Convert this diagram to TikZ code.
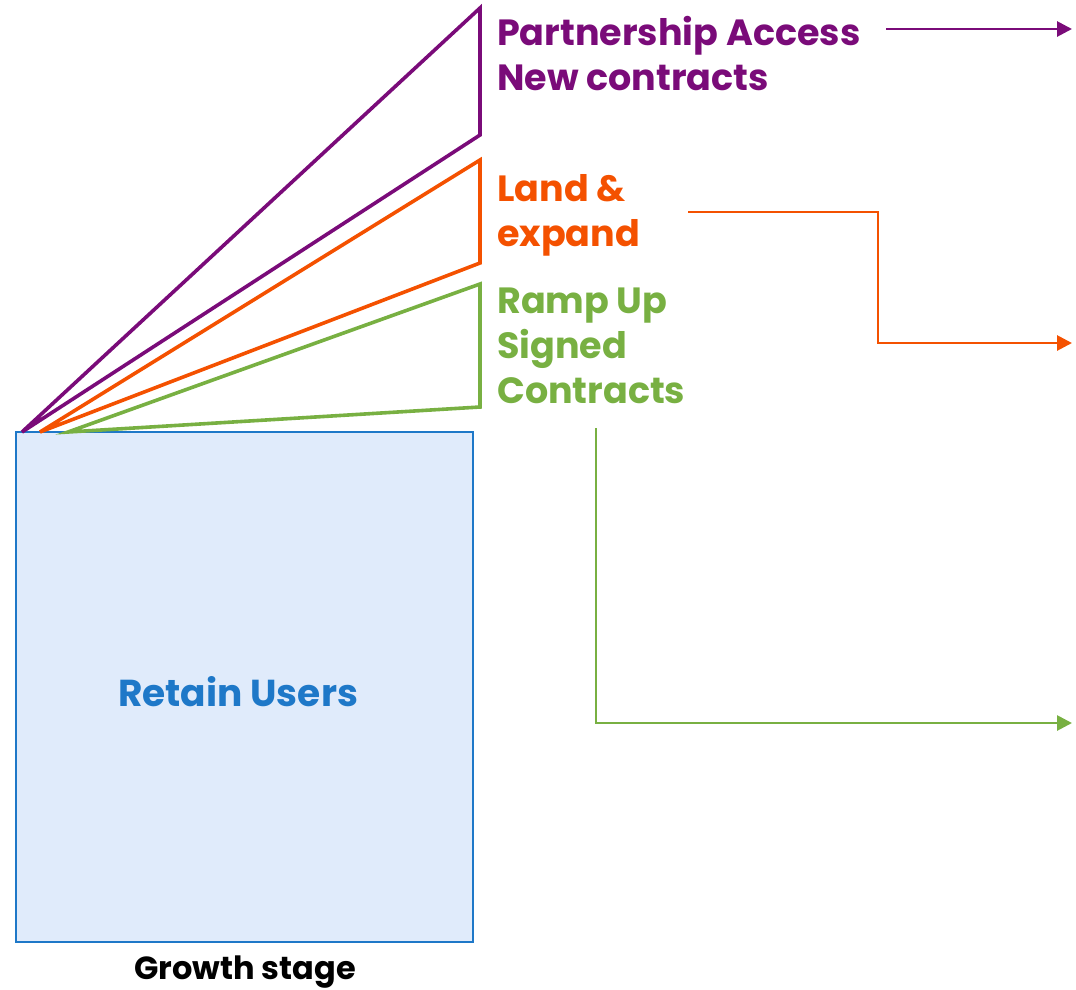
\documentclass[tikz,border=0pt]{standalone}
\usepackage{fontspec}
\setmainfont{Poppins}
\usetikzlibrary{arrows.meta}
\usetikzlibrary{positioning}
\definecolor{fanpurple}{HTML}{7A0B79}
\definecolor{fanorange}{HTML}{F45100}
\definecolor{fangreen}{HTML}{78B042}
\definecolor{boxblue}{HTML}{1E78C8}
\definecolor{boxfill}{HTML}{E0EBFB}
\tikzset{fan/.style={line width=3.6pt, line join=miter},
  lbl/.style={anchor=north west, inner sep=0pt, align=left, font=\fontsize{36.5}{45}\selectfont\bfseries},
  flow/.style={line width=2.8pt, -{Triangle[length=15pt,width=15pt]}}}

\begin{document}
\begin{tikzpicture}[x=1pt, y=-1pt]
      \useasboundingbox (0, 0) rectangle (1076, 989);

      \draw [boxblue, fill=boxfill, line width=2.8pt] (16, 432) rectangle (473, 942);
      \node [boxblue, font=\fontsize{37.5}{45}\selectfont\bfseries] (retain) at (238, 692) {Retain Users};
      \node [font=\fontsize{32}{38}\selectfont\bfseries] (stage) at (245, 972) {Growth stage};

      \draw [fan, fanpurple] (22, 432) -- (480, 8) -- (480, 135) -- cycle;
      \draw [fan, fanorange] (40, 432) -- (480, 160) -- (480, 263) -- cycle;
      \draw [fan, fangreen] (68, 432) -- (480, 284) -- (480, 407) -- cycle;

      \node [lbl, fanpurple] (access) at (497, 16) {Partnership Access\\New contracts};
      \node [lbl, fanorange] (land) at (497, 174) {Land \&\\expand};
      \node [lbl, fangreen] (ramp) at (497, 288) {Ramp Up\\Signed\\Contracts};

      \coordinate (pa) at (886, 29);
      \coordinate (pb) at (1072, 29);
      \coordinate (oa) at (688, 212);
      \coordinate (ob) at (1072, 343);
      \coordinate (ga) at (596, 428);
      \coordinate (gb) at (1072, 723);

      \draw [flow, fanpurple] (pa) -- (pb);
      \draw [flow, fanorange] (oa) -| (878, 343) -- (ob);
      \draw [flow, fangreen] (ga) |- (gb);
    \end{tikzpicture}
\end{document}
